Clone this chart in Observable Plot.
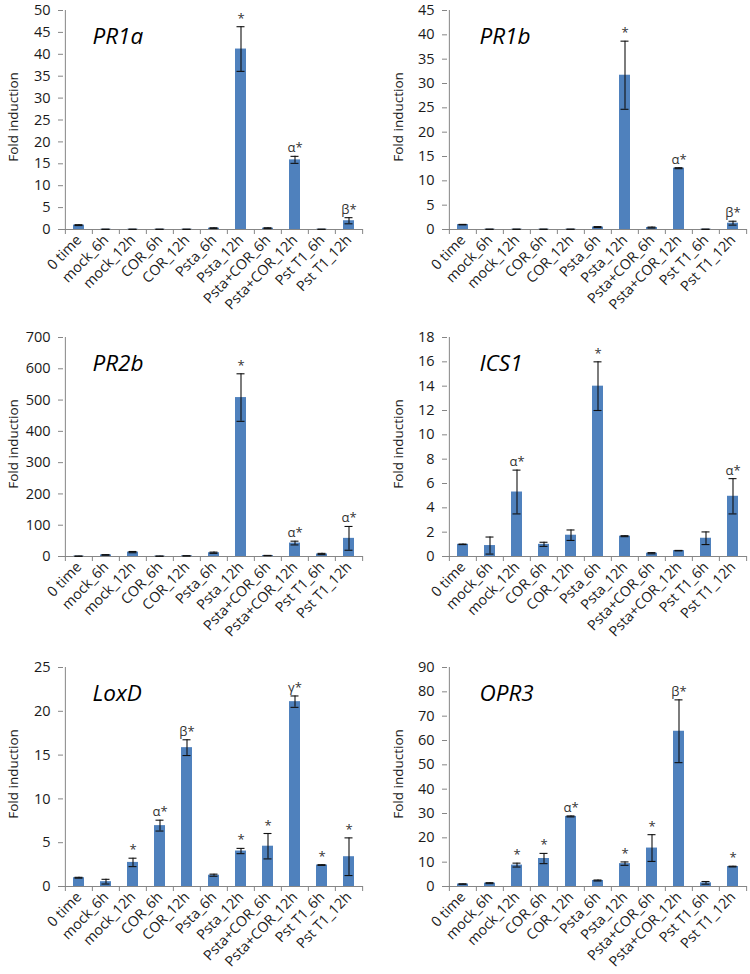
<!DOCTYPE html>
<html><head><meta charset="utf-8">
<script src="https://cdn.jsdelivr.net/npm/d3@7"></script>
<script src="https://cdn.jsdelivr.net/npm/@observablehq/plot@0.6"></script>
<style>
html,body{margin:0;padding:0;background:#fff;}
#root{position:relative;width:750px;height:974px;font-family:"Open Sans",sans-serif;}
.panel{position:absolute;}
</style></head><body><div id="root"></div>
<script>
const categories = ["0 time","mock_6h","mock_12h","COR_6h","COR_12h","Psta_6h","Psta_12h","Psta+COR_6h","Psta+COR_12h","Pst T1_6h","Pst T1_12h"];

const pr1aMean = [1.0, 0.05, 0.05, 0.05, 0.05, 0.3, 41.2, 0.3, 15.9, 0.05, 2.0];
const pr1aErr  = [0.1, 0.02, 0.02, 0.02, 0.02, 0.1, 5.1, 0.1, 0.8, 0.02, 0.7];
const pr1aMark = ["","","","","","","*","","α*","","β*"];

const pr1bMean = [1.0, 0.05, 0.05, 0.05, 0.05, 0.5, 31.7, 0.4, 12.6, 0.05, 1.3];
const pr1bErr  = [0.05, 0.02, 0.02, 0.02, 0.02, 0.1, 7.0, 0.1, 0.1, 0.02, 0.4];
const pr1bMark = ["","","","","","","*","","α*","","β*"];

const pr2bMean = [1, 5, 14, 1, 2, 12, 508, 3, 43, 8, 58];
const pr2bErr  = [0.5, 1, 2, 0.3, 0.5, 2, 76, 0.5, 6, 2, 38];
const pr2bMark = ["","","","","","","*","","α*","","α*"];

const ics1Mean = [1.0, 0.9, 5.3, 1.0, 1.75, 14.0, 1.67, 0.27, 0.48, 1.5, 4.95];
const ics1Err  = [0.02, 0.7, 1.8, 0.17, 0.43, 2.0, 0.04, 0.05, 0.02, 0.52, 1.45];
const ics1Mark = ["","","α*","","","*","","","","","α*"];

const loxdMean = [1.0, 0.55, 2.75, 6.95, 15.85, 1.29, 4.05, 4.6, 21.1, 2.45, 3.4];
const loxdErr  = [0.05, 0.27, 0.48, 0.62, 0.9, 0.12, 0.3, 1.45, 0.65, 0.04, 2.15];
const loxdMark = ["","","*","α*","β*","","*","*","γ*","*","*"];

const opr3Mean = [1.0, 1.37, 8.8, 11.5, 28.8, 2.47, 9.4, 15.8, 63.8, 1.5, 8.2];
const opr3Err  = [0.1, 0.2, 0.8, 2.1, 0.2, 0.2, 0.7, 5.5, 12.9, 0.55, 0.15];
const opr3Mark = ["","","*","*","α*","","*","*","β*","","*"];

const titles = ["PR1a","PR1b","PR2b","ICS1","LoxD","OPR3"];
const yMaxes = [50, 45, 700, 18, 25, 90];
const ySteps = [5, 5, 100, 2, 5, 10];
const yLabel = "Fold induction";

const panels = [
  {mean: pr1aMean, err: pr1aErr, mark: pr1aMark},
  {mean: pr1bMean, err: pr1bErr, mark: pr1bMark},
  {mean: pr2bMean, err: pr2bErr, mark: pr2bMark},
  {mean: ics1Mean, err: ics1Err, mark: ics1Mark},
  {mean: loxdMean, err: loxdErr, mark: loxdMark},
  {mean: opr3Mean, err: opr3Err, mark: opr3Mark}
];

const rowTops = [0, 327, 657];
const AX = "#868686", TXT = "#1a1a1a", BAR = "#4F81BD";
const FONT = "'Open Sans', sans-serif";

function makePanel(k) {
  const col = k % 2, row = Math.floor(k / 2);
  const W = 375, H = 316;
  const ml = col ? 72 : 63, mr = col ? 3 : 12;
  const step = (W - ml - mr) / categories.length;
  const {mean, err, mark} = panels[k];
  const yMax = yMaxes[k], yStep = ySteps[k];
  const data = categories.map((c, i) => ({c, v: mean[i], e: err[i], m: mark[i]}));
  const labelX = col ? 23 : 13;
  const plot = Plot.plot({
    width: W, height: H,
    marginLeft: ml, marginRight: mr, marginTop: 10, marginBottom: H - 10 - 219,
    style: {fontFamily: FONT, fontSize: "14px", color: TXT, background: "white", overflow: "visible"},
    x: {domain: categories, paddingInner: 0.6, paddingOuter: 0.3, label: null},
    y: {domain: [0, yMax], label: null},
    marks: [
      Plot.barY(data, {x: "c", y: "v", fill: BAR}),
      Plot.ruleY([0], {stroke: AX}),
      Plot.ruleX(categories.slice(0, 1), {dx: -step / 2, y1: 0, y2: yMax, stroke: AX}),
      Plot.ruleX(categories, {dx: -step / 2, y1: 0, y2: 0, insetTop: 5, stroke: AX}),
      Plot.ruleX(categories.slice(-1), {dx: step / 2, y1: 0, y2: 0, insetTop: 5, stroke: AX}),
      Plot.ruleX(data, {x: "c", y1: d => d.v - d.e, y2: d => d.v + d.e, stroke: "#111", strokeWidth: 1.1}),
      Plot.tickY(data, {x: "c", y: d => d.v + d.e, stroke: "#111", strokeWidth: 1.1, insetLeft: 1.5, insetRight: 1.5}),
      Plot.tickY(data, {x: "c", y: d => Math.max(0, d.v - d.e), stroke: "#111", strokeWidth: 1.1, insetLeft: 1.5, insetRight: 1.5}),
      Plot.text(data.filter(d => d.m), {x: "c", y: d => d.v + d.e, text: "m", dy: -4, lineAnchor: "bottom", fontSize: 13, fill: "#333"}),
      Plot.axisY({ticks: d3.range(0, yMax + yStep / 2, yStep), tickSize: 5, tickPadding: 8, stroke: AX, fill: TXT, fontSize: 14.5, label: null}),
      Plot.axisX({tickSize: 0, tickPadding: 8, tickRotate: -46, fill: TXT, fontSize: 14.3, label: null}),
      Plot.text([titles[k]], {text: d => d, frameAnchor: "top-left", dx: col ? 32 : 29, dy: 18, textAnchor: "start", lineAnchor: "top", fontSize: 22.5, fontStyle: "italic", fill: "#000"}),
      Plot.text([yLabel], {text: d => d, frameAnchor: "left", rotate: -90, textAnchor: "middle", lineAnchor: "middle", dx: -(ml - labelX), dy: -3, fontSize: 13.5, fill: TXT})
    ]
  });
  const div = document.createElement("div");
  div.className = "panel";
  div.style.left = (col * 375) + "px";
  div.style.top = rowTops[row] + "px";
  div.appendChild(plot);
  document.getElementById("root").appendChild(div);
}
for (let k = 0; k < 6; k++) makePanel(k);
</script>
</body></html>
